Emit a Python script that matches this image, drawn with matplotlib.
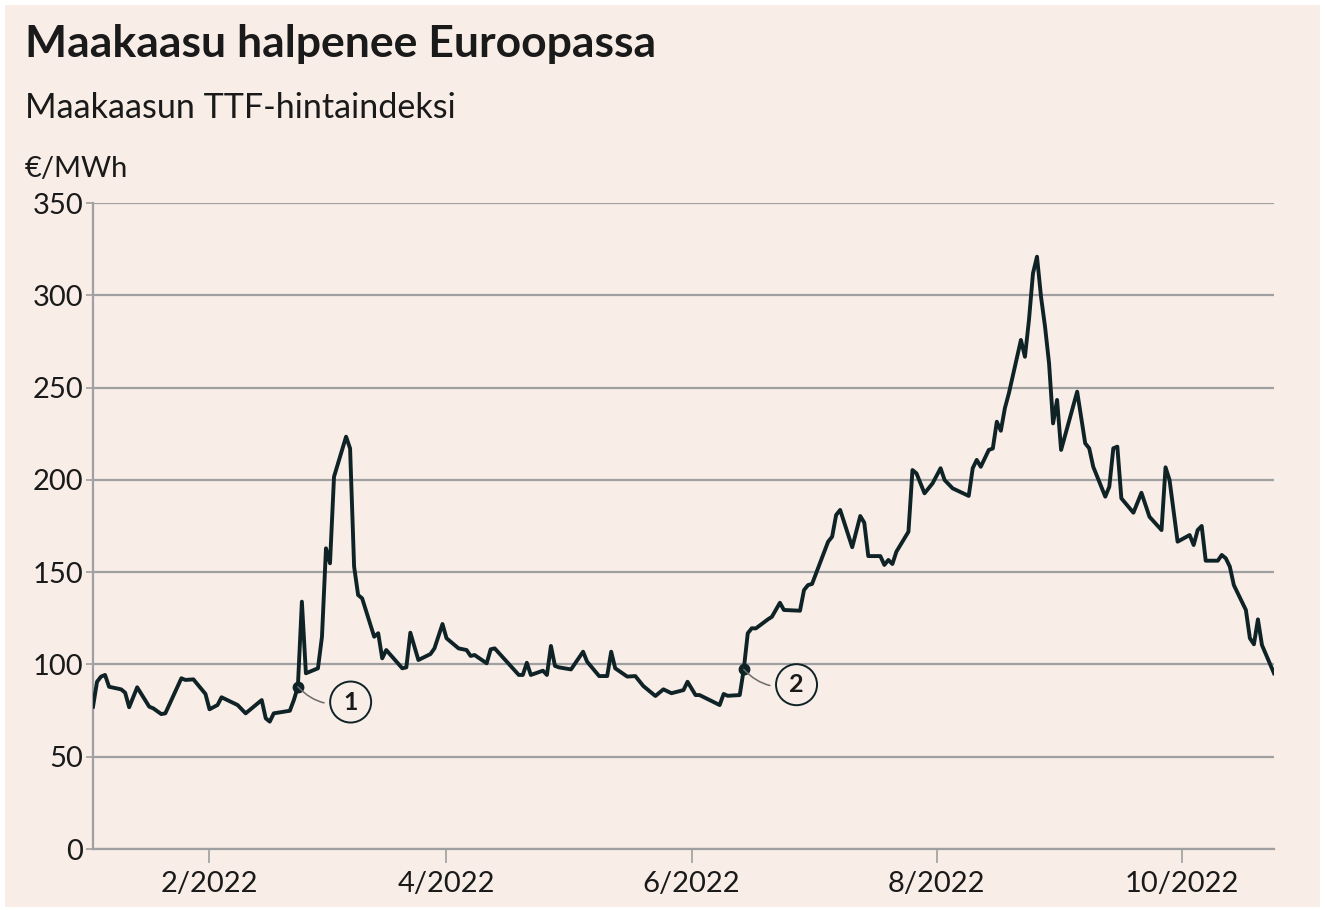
import matplotlib
matplotlib.use("Agg")
import matplotlib.pyplot as plt
from matplotlib.patches import Rectangle
import pandas as pd

# TTF-hinta, €/MWh (luettu kuvasta)
paivat = [
    "2022-01-03", "2022-01-04", "2022-01-05", "2022-01-06", "2022-01-07",
    "2022-01-10", "2022-01-11", "2022-01-12", "2022-01-14", "2022-01-17",
    "2022-01-18", "2022-01-20", "2022-01-21", "2022-01-25", "2022-01-26",
    "2022-01-28", "2022-01-31", "2022-02-01", "2022-02-03", "2022-02-04",
    "2022-02-08", "2022-02-10", "2022-02-14", "2022-02-15", "2022-02-16",
    "2022-02-17", "2022-02-21", "2022-02-22", "2022-02-23", "2022-02-24",
    "2022-02-25", "2022-02-28", "2022-03-01", "2022-03-02", "2022-03-03",
    "2022-03-04", "2022-03-07", "2022-03-08", "2022-03-09", "2022-03-10",
    "2022-03-11", "2022-03-14", "2022-03-15", "2022-03-16", "2022-03-17",
    "2022-03-21", "2022-03-22", "2022-03-23", "2022-03-25", "2022-03-28",
    "2022-03-29", "2022-03-31", "2022-04-01", "2022-04-04", "2022-04-06",
    "2022-04-07", "2022-04-08", "2022-04-11", "2022-04-12", "2022-04-13",
    "2022-04-19", "2022-04-20", "2022-04-21", "2022-04-22", "2022-04-25",
    "2022-04-26", "2022-04-27", "2022-04-28", "2022-04-29", "2022-05-02",
    "2022-05-05", "2022-05-06", "2022-05-09", "2022-05-11", "2022-05-12",
    "2022-05-13", "2022-05-16", "2022-05-18", "2022-05-20", "2022-05-23",
    "2022-05-25", "2022-05-27", "2022-05-30", "2022-05-31", "2022-06-02",
    "2022-06-03", "2022-06-08", "2022-06-09", "2022-06-10", "2022-06-13",
    "2022-06-14", "2022-06-15", "2022-06-16", "2022-06-17", "2022-06-20",
    "2022-06-21", "2022-06-23", "2022-06-24", "2022-06-28", "2022-06-29",
    "2022-06-30", "2022-07-01", "2022-07-05", "2022-07-06", "2022-07-07",
    "2022-07-08", "2022-07-11", "2022-07-13", "2022-07-14", "2022-07-15",
    "2022-07-18", "2022-07-19", "2022-07-20", "2022-07-21", "2022-07-22",
    "2022-07-25", "2022-07-26", "2022-07-27", "2022-07-29", "2022-07-31",
    "2022-08-02", "2022-08-03", "2022-08-05", "2022-08-09", "2022-08-10",
    "2022-08-11", "2022-08-12", "2022-08-14", "2022-08-15", "2022-08-16",
    "2022-08-17", "2022-08-18", "2022-08-19", "2022-08-22", "2022-08-23",
    "2022-08-24", "2022-08-25", "2022-08-26", "2022-08-27", "2022-08-28",
    "2022-08-29", "2022-08-30", "2022-08-31", "2022-09-01", "2022-09-05",
    "2022-09-07", "2022-09-08", "2022-09-09", "2022-09-12", "2022-09-13",
    "2022-09-14", "2022-09-15", "2022-09-16", "2022-09-19", "2022-09-21",
    "2022-09-23", "2022-09-26", "2022-09-27", "2022-09-28", "2022-09-30",
    "2022-10-03", "2022-10-04", "2022-10-05", "2022-10-06", "2022-10-07",
    "2022-10-10", "2022-10-11", "2022-10-12", "2022-10-13", "2022-10-14",
    "2022-10-17", "2022-10-18", "2022-10-19", "2022-10-20", "2022-10-21",
    "2022-10-24",
]
hinta = [
    77.1, 90.6, 93.4, 94.3, 87.9,
    86.5, 84.7, 76.8, 87.6, 77.1,
    76.2, 73.1, 73.5, 92.5, 91.6,
    91.9, 84.0, 75.7, 78.0, 82.2,
    78.0, 73.5, 80.7, 70.8, 69.0,
    73.5, 74.9, 80.7, 87.9, 134.0,
    95.2, 97.9, 115.0, 162.9, 154.8,
    201.7, 223.4, 217.0, 153.0, 137.6,
    135.8, 115.0, 116.9, 103.3, 107.8,
    97.9, 98.4, 117.2, 102.4, 105.6,
    108.7, 121.9, 114.2, 108.7, 107.8,
    104.6, 105.1, 100.6, 108.2, 108.7,
    94.3, 94.3, 100.9, 94.3, 96.6,
    94.3, 110.0, 99.2, 98.4, 97.3,
    106.9, 101.5, 93.7, 93.7, 106.9,
    97.9, 93.4, 93.7, 88.3, 82.9,
    86.5, 84.4, 86.1, 90.6, 83.4,
    83.4, 78.0, 84.0, 83.0, 83.4,
    97.3, 116.9, 119.6, 119.5, 124.4,
    125.8, 133.4, 129.5, 129.1, 140.3,
    143.0, 143.6, 166.5, 169.2, 181.0,
    183.7, 163.5, 180.4, 176.8, 158.7,
    158.7, 153.9, 156.6, 154.4, 161.1,
    171.9, 205.3, 203.5, 192.7, 198.1,
    206.3, 199.9, 195.4, 191.3, 206.3,
    210.8, 207.1, 216.2, 217.0, 231.5,
    226.6, 238.8, 246.9, 275.8, 266.7,
    286.6, 311.9, 320.9, 299.2, 283.0,
    263.2, 230.6, 243.3, 216.2, 247.8,
    219.8, 217.1, 207.1, 190.9, 196.3,
    217.1, 218.0, 190.0, 182.2, 193.0,
    180.0, 172.8, 206.8, 199.9, 166.5,
    170.1, 164.7, 172.8, 175.0, 156.2,
    156.2, 159.3, 157.5, 153.0, 143.0,
    129.5, 114.2, 110.9, 124.4, 110.5,
    95.2,
]

# Merkityt tapahtumat
tapahtumat = ["2022-02-23", "2022-06-14"]
tapahtuma_nrot = ["1", "2"]

x_ticks = ["2022-02-01", "2022-04-01", "2022-06-01", "2022-08-01", "2022-10-01"]
x_tick_labels = ["2/2022", "4/2022", "6/2022", "8/2022", "10/2022"]
y_ticks = [0, 50, 100, 150, 200, 250, 300, 350]

bg = "#f8ede7"
viiva = "#0f2226"
harmaa = "#a0a0a0"
teksti = "#1a1a1a"

plt.rcParams["font.family"] = ["Lato", "DejaVu Sans"]

df = pd.DataFrame({"pvm": pd.to_datetime(paivat), "hinta": hinta})

fig = plt.figure(figsize=(13.25, 9.10), dpi=100, facecolor="white")
fig.add_artist(Rectangle((5 / 1325, 3 / 910), 1 - 10 / 1325, 1 - 8 / 910,
                         transform=fig.transFigure, facecolor=bg,
                         edgecolor="none", zorder=-10))

ax = fig.add_axes([93 / 1325, 1 - 849 / 910, (1274 - 93) / 1325, (849 - 203) / 910])
ax.set_facecolor(bg)

ax.plot(df["pvm"], df["hinta"], color=viiva, lw=2.8, zorder=3)

# numeroidut merkinnät
for pvm, nro in zip(tapahtumat, tapahtuma_nrot):
    p = pd.Timestamp(pvm)
    arvo = df.loc[df["pvm"] == p, "hinta"].iloc[0]
    ax.plot([p], [arvo], "o", color=viiva, ms=7.5, zorder=4)
    ax.annotate(nro, xy=(p, arvo), xytext=(38, -11), textcoords="offset points",
                ha="center", va="center", fontsize=18, fontweight="bold",
                color=teksti,
                bbox=dict(boxstyle="circle,pad=0.36", fc=bg, ec=viiva, lw=1.4),
                arrowprops=dict(arrowstyle="-", color="#6b6b6b", lw=1.1,
                                shrinkA=4, shrinkB=0,
                                connectionstyle="arc3,rad=-0.3"),
                zorder=5)

ax.set_xlim(pd.Timestamp("2022-01-03"), pd.Timestamp("2022-10-24"))
ax.set_ylim(0, 350)
ax.set_yticks(y_ticks)
ax.set_xticks(pd.to_datetime(x_ticks))
ax.set_xticklabels(x_tick_labels)

ax.grid(axis="y", color=harmaa, lw=1.6)
ax.set_axisbelow(True)
for s in ["top", "right"]:
    ax.spines[s].set_visible(False)
for s in ["left", "bottom"]:
    ax.spines[s].set_color(harmaa)
    ax.spines[s].set_linewidth(1.6)

ax.tick_params(axis="y", length=5, width=1.2, color=harmaa, pad=2,
               labelsize=21, labelcolor=teksti)
ax.tick_params(axis="x", length=10, width=1.2, color=harmaa, pad=6,
               labelsize=21, labelcolor=teksti)

fig.text(25 / 1325, 1 - 57 / 910, "Maakaasu halpenee Euroopassa",
         fontsize=32, fontweight="bold", color=teksti, va="baseline")
fig.text(25 / 1325, 1 - 118 / 910, "Maakaasun TTF-hintaindeksi",
         fontsize=24.6, color=teksti, va="baseline")
fig.text(25 / 1325, 1 - 177 / 910, "€/MWh",
         fontsize=21, color=teksti, va="baseline")

fig.savefig("out.png", dpi=100, facecolor=fig.get_facecolor())
